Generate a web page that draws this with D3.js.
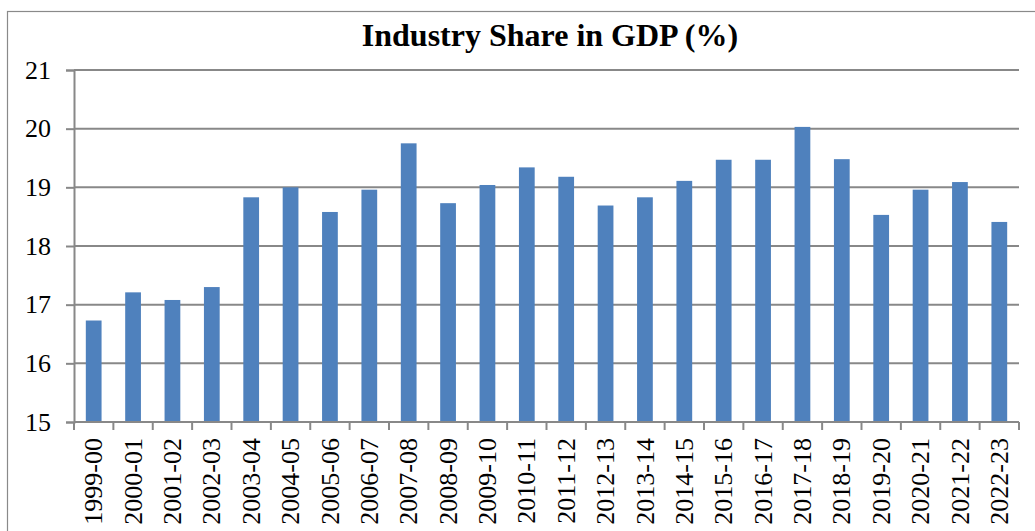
<!DOCTYPE html>
<html>
<head>
<meta charset="utf-8">
<script src="https://cdn.jsdelivr.net/npm/d3@7"></script>
<style>
  html, body { margin: 0; padding: 0; background: #fff; }
  svg { display: block; }
  svg text { font-family: "Liberation Serif", "Times New Roman", Tinos !important; }
</style>
</head>
<body>
<svg id="chart" width="1035" height="531"></svg>
<script>
const title = "Industry Share in GDP (%)";
const categories = ["1999-00","2000-01","2001-02","2002-03","2003-04","2004-05","2005-06","2006-07","2007-08","2008-09","2009-10","2010-11","2011-12","2012-13","2013-14","2014-15","2015-16","2016-17","2017-18","2018-19","2019-20","2020-21","2021-22","2022-23"];
const values = [16.73,17.21,17.08,17.30,18.83,19.00,18.58,18.96,19.75,18.73,19.04,19.34,19.18,18.69,18.83,19.11,19.47,19.47,20.03,19.48,18.53,18.96,19.09,18.41];
const yTicks = [15,16,17,18,19,20,21];

const svg = d3.select("#chart");
const margin = {left: 74, right: 1019, top: 70, bottom: 422};

// outer frame (extends beyond the window on the right/bottom)
svg.append("rect")
  .attr("x", 7.5).attr("y", 11.5)
  .attr("width", 1100).attr("height", 600)
  .attr("fill", "none").attr("stroke", "#8a8a8a").attr("stroke-width", 1.2);

const x = d3.scaleBand().domain(categories).range([margin.left, margin.right]).paddingInner(0.6).paddingOuter(0.3);
const xb = d3.scaleBand().domain(categories).range([margin.left, margin.right]);
const y = d3.scaleLinear().domain([15, 21]).range([margin.bottom, margin.top]);

// gridlines
svg.append("g").selectAll("line").data(yTicks.filter(d => d > 15)).join("line")
  .attr("x1", margin.left).attr("x2", margin.right)
  .attr("y1", d => y(d)).attr("y2", d => y(d))
  .attr("stroke", "#888").attr("stroke-width", 2);

// bars
svg.append("g").selectAll("rect").data(values).join("rect")
  .attr("x", (d, i) => x(categories[i]))
  .attr("width", x.bandwidth())
  .attr("y", d => y(d))
  .attr("height", d => y(15) - y(d))
  .attr("fill", "#4F81BD");

// y axis
const yAxis = svg.append("g").attr("transform", `translate(${margin.left},0)`)
  .call(d3.axisLeft(y).tickValues(yTicks).tickSize(8).tickPadding(15).tickFormat(d3.format("d")));
yAxis.attr("font-family", null);
yAxis.select(".domain").attr("stroke", "#888").attr("stroke-width", 2);
yAxis.selectAll(".tick line").attr("stroke", "#888").attr("stroke-width", 2);
yAxis.selectAll("text").attr("font-size", 26).attr("fill", "#000");

// x axis
const xAxis = svg.append("g").attr("transform", `translate(0,${margin.bottom})`)
  .call(d3.axisBottom(x).tickSize(0).tickPadding(0));
xAxis.attr("font-family", null);
xAxis.select(".domain").remove();
svg.append("line")
  .attr("x1", margin.left).attr("x2", margin.right)
  .attr("y1", margin.bottom).attr("y2", margin.bottom)
  .attr("stroke", "#888").attr("stroke-width", 2);
// category boundary ticks
const bounds = categories.map(c => xb(c)).concat([margin.right]);
svg.append("g").selectAll("line").data(bounds).join("line")
  .attr("x1", d => d).attr("x2", d => d)
  .attr("y1", margin.bottom).attr("y2", margin.bottom + 8)
  .attr("stroke", "#888").attr("stroke-width", 2);
xAxis.selectAll("text")
  .attr("font-size", 26).attr("fill", "#000")
  .attr("text-anchor", "end")
  .attr("transform", d => `translate(${x.bandwidth()/2},16) rotate(-90)`)
  .attr("dx", 0).attr("dy", "0.33em").attr("y", 0).attr("x", 0);
xAxis.selectAll(".tick").attr("transform", d => `translate(${x(d)},0)`);

// title
svg.append("text")
  .attr("x", 550).attr("y", 46)
  .attr("text-anchor", "middle")
  .attr("font-weight", "bold").attr("font-size", 32)
  .attr("fill", "#000")
  .text(title);
</script>
</body>
</html>
